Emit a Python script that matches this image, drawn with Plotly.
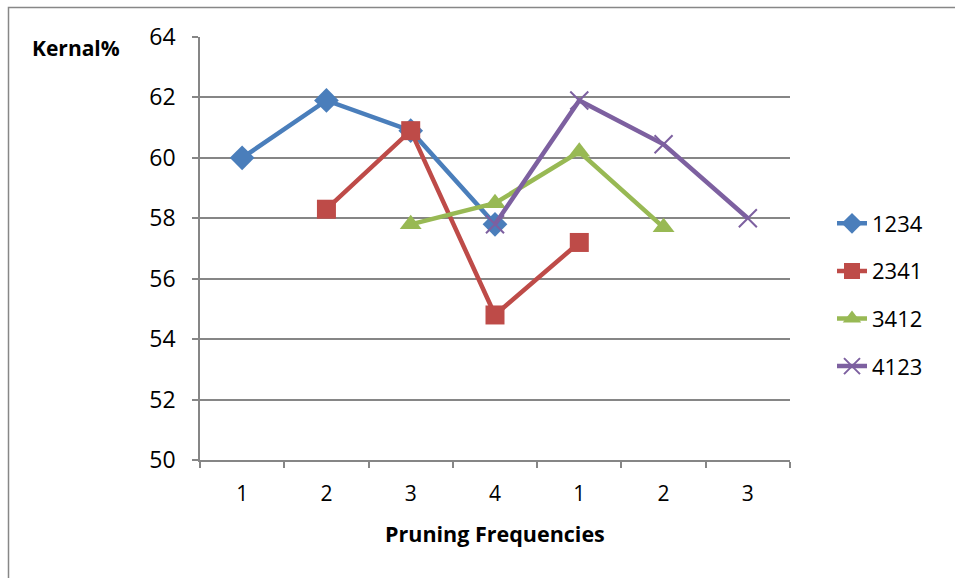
import plotly.graph_objects as go

x_pos = [1, 2, 3, 4, 5, 6, 7]
x_labels = ["1", "2", "3", "4", "1", "2", "3"]

series_names = ["1234", "2341", "3412", "4123"]
s1234_x = [1, 2, 3, 4]
s1234_y = [60.0, 61.9, 60.9, 57.8]
s2341_x = [2, 3, 4, 5]
s2341_y = [58.3, 60.9, 54.8, 57.2]
s3412_x = [3, 4, 5, 6]
s3412_y = [57.8, 58.5, 60.2, 57.7]
s4123_x = [4, 5, 6, 7]
s4123_y = [57.8, 61.9, 60.45, 58.0]

colors = ["#4A7EBB", "#BE4B48", "#98B954", "#7D60A0"]
symbols = ["diamond", "square", "triangle-up", "x-thin"]
sizes = [19, 19, 19, 18]

FONT = "Open Sans"

fig = go.Figure()
data = [(s1234_x, s1234_y), (s2341_x, s2341_y), (s3412_x, s3412_y), (s4123_x, s4123_y)]
for i, (xs, ys) in enumerate(data):
    marker = dict(symbol=symbols[i], size=sizes[i], color=colors[i])
    if symbols[i] == "x-thin":
        marker["line"] = dict(color=colors[i], width=2)
    fig.add_trace(go.Scatter(
        x=xs, y=ys, name=series_names[i], mode="lines+markers",
        line=dict(color=colors[i], width=4.5),
        marker=marker, legendgroup=series_names[i],
    ))

W, H = 955, 578
L, R, T, B = 200, 165, 37, 118
pw, ph = W - L - R, H - T - B

def px_x(p):
    return (p - L) / pw

def px_y(p):
    return (H - B - p) / ph

fig.update_layout(
    width=W, height=H,
    margin=dict(l=L, r=R, t=T, b=B),
    paper_bgcolor="white", plot_bgcolor="white",
    font=dict(family=FONT, color="black"),
    showlegend=True,
    legend=dict(
        x=px_x(832), xanchor="left", y=px_y(295), yanchor="middle",
        font=dict(size=22, family=FONT), tracegroupgap=16,
        bgcolor="rgba(0,0,0,0)",
    ),
    xaxis=dict(
        range=[0.5, 7.5], tickmode="array", tickvals=x_pos, ticktext=x_labels,
        ticks="", showgrid=False, zeroline=False,
        showline=True, linecolor="#868686", linewidth=1.5,
        tickfont=dict(size=21, family=FONT), ticklabelstandoff=14,
        minor=dict(tickmode="array", tickvals=[0.5 + k for k in range(8)],
                   ticks="outside", ticklen=6, tickcolor="#868686", tickwidth=1.5,
                   showgrid=False),
    ),
    yaxis=dict(
        range=[50, 64], tickmode="array", tickvals=list(range(50, 65, 2)),
        ticks="outside", ticklen=6, tickcolor="#868686", tickwidth=1.5,
        showgrid=True, gridcolor="#868686", gridwidth=1.5,
        zeroline=False, showline=True, linecolor="#868686", linewidth=1.5,
        tickfont=dict(size=23, family=FONT), ticklabelstandoff=12,
    ),
    annotations=[
        dict(text="<b>Kernal%</b>", x=px_x(76), y=px_y(48), xref="paper", yref="paper",
             xanchor="center", yanchor="middle", showarrow=False,
             font=dict(size=21, family=FONT)),
        dict(text="<b>Pruning Frequencies</b>", x=px_x(495), y=px_y(533), xref="paper", yref="paper",
             xanchor="center", yanchor="middle", showarrow=False,
             font=dict(size=21.5, family=FONT)),
    ],
    shapes=[
        dict(type="rect", xref="paper", yref="paper",
             x0=px_x(8.5), x1=px_x(990), y0=px_y(620), y1=px_y(7.5),
             line=dict(color="#878787", width=1.5), fillcolor="rgba(0,0,0,0)", layer="below"),
    ],
)

fig.write_html("out.html")
